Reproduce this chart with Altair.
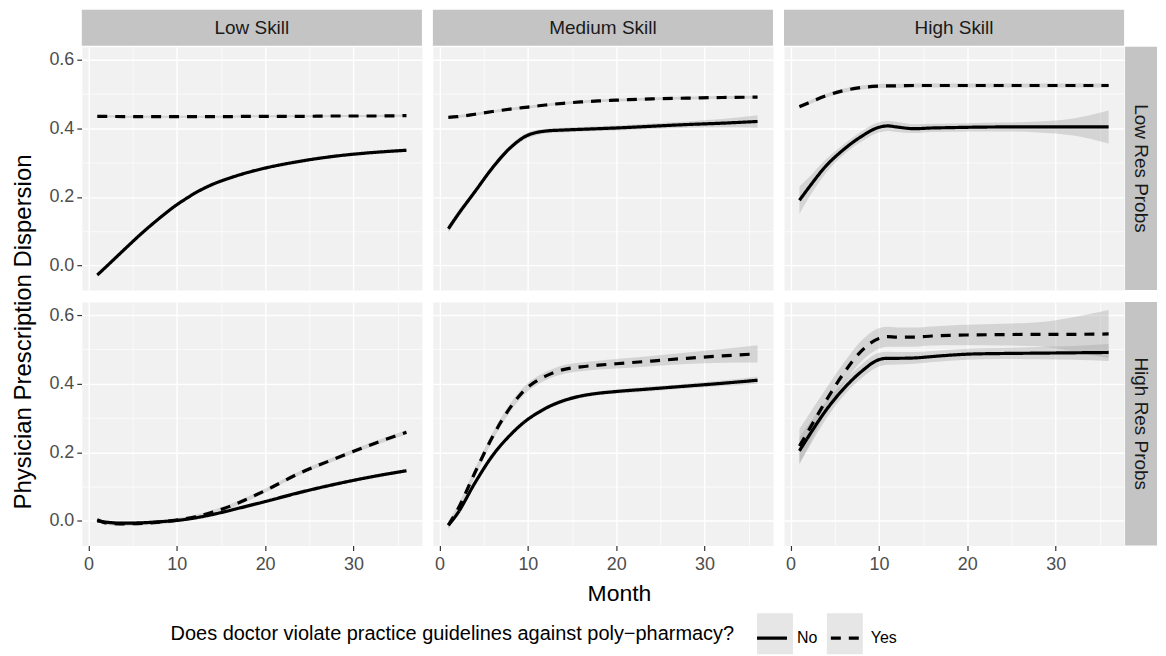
import altair as alt
import pandas as pd

MONTHS = [1, 2, 4, 6, 8, 10, 11, 12, 14, 16, 18, 20, 24, 28, 32, 36]
SKILLS = ["Low Skill", "Medium Skill", "High Skill"]
RES = ["Low Res Probs", "High Res Probs"]
VIOL = ["No", "Yes"]
X_TICKS = [0, 5, 10, 15, 20, 25, 30, 35]
Y_TICKS = [0.0, 0.1, 0.2, 0.3, 0.4, 0.5, 0.6]

# ---- Low Res Probs row ----
LS_LR_NO = [-0.028, -0.004, 0.045, 0.093, 0.137, 0.177, 0.194, 0.210, 0.236, 0.255, 0.271, 0.284, 0.304, 0.319, 0.329, 0.336]
LS_LR_NO_CI = [0.005, 0.004, 0.004, 0.004, 0.004, 0.004, 0.004, 0.004, 0.004, 0.004, 0.004, 0.004, 0.004, 0.004, 0.004, 0.005]
LS_LR_YES = [0.435, 0.435, 0.434, 0.434, 0.434, 0.434, 0.434, 0.434, 0.434, 0.434, 0.435, 0.435, 0.435, 0.436, 0.436, 0.437]
LS_LR_YES_CI = [0.003] * 16

MS_LR_NO = [0.107, 0.145, 0.215, 0.285, 0.343, 0.380, 0.388, 0.392, 0.395, 0.397, 0.399, 0.401, 0.406, 0.411, 0.415, 0.420]
MS_LR_NO_CI = [0.012, 0.010, 0.008, 0.008, 0.008, 0.008, 0.008, 0.007, 0.007, 0.007, 0.007, 0.007, 0.008, 0.009, 0.012, 0.018]
MS_LR_YES = [0.432, 0.434, 0.441, 0.449, 0.456, 0.462, 0.465, 0.468, 0.473, 0.477, 0.480, 0.482, 0.486, 0.488, 0.490, 0.491]
MS_LR_YES_CI = [0.004] * 16

HS_LR_NO = [0.190, 0.225, 0.290, 0.338, 0.376, 0.403, 0.407, 0.404, 0.399, 0.401, 0.402, 0.403, 0.404, 0.404, 0.404, 0.404]
HS_LR_NO_CI = [0.040, 0.030, 0.020, 0.015, 0.015, 0.015, 0.015, 0.015, 0.013, 0.012, 0.012, 0.012, 0.013, 0.016, 0.025, 0.048]
HS_LR_YES = [0.463, 0.474, 0.495, 0.510, 0.519, 0.523, 0.524, 0.524, 0.525, 0.525, 0.525, 0.525, 0.525, 0.525, 0.525, 0.525]
HS_LR_YES_CI = [0.006] * 16

# ---- High Res Probs row ----
LS_HR_NO = [0.000, -0.004, -0.007, -0.006, -0.003, 0.001, 0.004, 0.008, 0.018, 0.030, 0.043, 0.056, 0.083, 0.107, 0.128, 0.146]
LS_HR_NO_CI = [0.005] * 16
LS_HR_YES = [0.003, -0.006, -0.009, -0.008, -0.004, 0.002, 0.006, 0.011, 0.025, 0.042, 0.064, 0.088, 0.140, 0.182, 0.222, 0.258]
LS_HR_YES_CI = [0.006] * 16

MS_HR_NO = [-0.013, 0.020, 0.110, 0.190, 0.250, 0.296, 0.313, 0.328, 0.350, 0.364, 0.372, 0.377, 0.385, 0.393, 0.401, 0.410]
MS_HR_NO_CI = [0.008, 0.007, 0.006, 0.006, 0.006, 0.006, 0.006, 0.006, 0.006, 0.006, 0.006, 0.006, 0.007, 0.007, 0.008, 0.010]
MS_HR_YES = [-0.013, 0.030, 0.140, 0.245, 0.330, 0.390, 0.408, 0.422, 0.441, 0.449, 0.454, 0.458, 0.466, 0.474, 0.481, 0.487]
MS_HR_YES_CI = [0.012, 0.012, 0.012, 0.012, 0.012, 0.012, 0.012, 0.012, 0.013, 0.013, 0.013, 0.014, 0.015, 0.017, 0.020, 0.025]

HS_HR_NO = [0.204, 0.245, 0.322, 0.385, 0.435, 0.470, 0.474, 0.474, 0.475, 0.479, 0.483, 0.486, 0.488, 0.489, 0.490, 0.491]
HS_HR_NO_CI = [0.040, 0.035, 0.025, 0.020, 0.020, 0.020, 0.019, 0.018, 0.017, 0.016, 0.016, 0.016, 0.016, 0.018, 0.020, 0.025]
HS_HR_YES = [0.218, 0.262, 0.350, 0.430, 0.495, 0.532, 0.537, 0.536, 0.536, 0.539, 0.541, 0.542, 0.543, 0.544, 0.544, 0.545]
HS_HR_YES_CI = [0.050, 0.045, 0.035, 0.030, 0.030, 0.030, 0.029, 0.028, 0.028, 0.028, 0.029, 0.030, 0.032, 0.035, 0.050, 0.070]

SERIES = {
    ("Low Skill", "Low Res Probs", "No"): (LS_LR_NO, LS_LR_NO_CI),
    ("Low Skill", "Low Res Probs", "Yes"): (LS_LR_YES, LS_LR_YES_CI),
    ("Medium Skill", "Low Res Probs", "No"): (MS_LR_NO, MS_LR_NO_CI),
    ("Medium Skill", "Low Res Probs", "Yes"): (MS_LR_YES, MS_LR_YES_CI),
    ("High Skill", "Low Res Probs", "No"): (HS_LR_NO, HS_LR_NO_CI),
    ("High Skill", "Low Res Probs", "Yes"): (HS_LR_YES, HS_LR_YES_CI),
    ("Low Skill", "High Res Probs", "No"): (LS_HR_NO, LS_HR_NO_CI),
    ("Low Skill", "High Res Probs", "Yes"): (LS_HR_YES, LS_HR_YES_CI),
    ("Medium Skill", "High Res Probs", "No"): (MS_HR_NO, MS_HR_NO_CI),
    ("Medium Skill", "High Res Probs", "Yes"): (MS_HR_YES, MS_HR_YES_CI),
    ("High Skill", "High Res Probs", "No"): (HS_HR_NO, HS_HR_NO_CI),
    ("High Skill", "High Res Probs", "Yes"): (HS_HR_YES, HS_HR_YES_CI),
}

rows = []
for (skill, res, viol), (vals, ci) in SERIES.items():
    for m, v, c in zip(MONTHS, vals, ci):
        rows.append({"skill": skill, "res": res, "viol": viol, "month": m,
                     "value": v, "lo": v - c, "hi": v + c})
df = pd.DataFrame(rows)

W, H = 341, 244
FONT = "Liberation Sans"

x_scale = alt.Scale(domain=[-0.75, 37.75], nice=False, zero=False)
y_scale = alt.Scale(domain=[-0.072, 0.638], nice=False, zero=False)

x_axis = alt.Axis(
    values=X_TICKS,
    labelExpr="datum.value % 10 == 0 ? datum.label : ''",
    gridColor="white",
    gridWidth={"condition": {"test": "datum.value % 10 != 0", "value": 0.7}, "value": 1.4},
    tickColor={"condition": {"test": "datum.value % 10 != 0", "value": "transparent"}, "value": "#333333"},
    tickSize=5, tickWidth=1.2, domain=False,
    labelFontSize=18, labelColor="#4D4D4D", labelPadding=5, labelFont=FONT,
    title=None,
)
y_axis = alt.Axis(
    values=Y_TICKS,
    labelExpr="round(datum.value * 10) % 2 == 0 ? format(datum.value, '.1f') : ''",
    gridColor="white",
    gridWidth={"condition": {"test": "round(datum.value * 10) % 2 == 1", "value": 0.7}, "value": 1.4},
    tickColor={"condition": {"test": "round(datum.value * 10) % 2 == 1", "value": "transparent"}, "value": "#333333"},
    tickSize=5, tickWidth=1.2, domain=False,
    labelFontSize=18, labelColor="#4D4D4D", labelPadding=3, labelFont=FONT,
    title=None,
)

X = alt.X("month:Q", scale=x_scale, axis=x_axis)

band = alt.Chart().mark_area(color="#999999", opacity=0.32, interpolate="monotone").encode(
    x=X,
    y=alt.Y("lo:Q", scale=y_scale, axis=y_axis),
    y2="hi:Q",
    detail="viol:N",
)

line = alt.Chart().mark_line(color="black", strokeWidth=3.2, interpolate="monotone").encode(
    x=X,
    y=alt.Y("value:Q", scale=y_scale, axis=y_axis),
    strokeDash=alt.StrokeDash(
        "viol:N",
        scale=alt.Scale(domain=VIOL, range=[[1, 0], [10, 8]]),
        legend=alt.Legend(
            title="Does doctor violate practice guidelines against poly\u2212pharmacy?",
            orient="none", legendX=89, legendY=576,
            direction="horizontal", titleOrient="left",
            titleFontSize=20, titleFontWeight="normal", titleColor="black", titleFont=FONT,
            titleLimit=900, titlePadding=20,
            labelFontSize=16, labelColor="black", labelFont=FONT, labelOffset=8,
            symbolType="stroke", symbolSize=900, symbolStrokeWidth=3.2,
            symbolStrokeColor="black", columnPadding=6,
        ),
    ),
)

top_filter = "datum.res == 'Low Res Probs' && datum.viol == 'No' && datum.month == 1"
right_filter = "datum.skill == 'High Skill' && datum.viol == 'No' && datum.month == 1"
key_filter = "datum.skill == 'Medium Skill' && datum.res == 'High Res Probs' && datum.viol == 'No' && datum.month == 1"

top_rect = alt.Chart().transform_filter(top_filter).mark_rect(color="#C4C4C4").encode(
    x=alt.value(0), x2=alt.value(W), y=alt.value(-37), y2=alt.value(-1)
)
top_text = alt.Chart().transform_filter(top_filter).mark_text(
    fontSize=19, color="#1A1A1A", font=FONT, baseline="middle", align="center"
).encode(x=alt.value(W / 2), y=alt.value(-19), text="skill:N")

right_rect = alt.Chart().transform_filter(right_filter).mark_rect(color="#C4C4C4").encode(
    x=alt.value(W + 1), x2=alt.value(W + 33), y=alt.value(0), y2=alt.value(H)
)
right_text = alt.Chart().transform_filter(right_filter).mark_text(
    fontSize=19, color="#1A1A1A", font=FONT, angle=90, baseline="middle", align="center"
).encode(x=alt.value(W + 17), y=alt.value(H / 2), text="res:N")

# grey legend-key backgrounds (ggplot style), drawn beneath the legend symbols
key_no = alt.Chart().transform_filter(key_filter).mark_rect(color="#E6E6E6").encode(
    x=alt.value(325), x2=alt.value(361), y=alt.value(312), y2=alt.value(353)
)
key_yes = alt.Chart().transform_filter(key_filter).mark_rect(color="#E6E6E6").encode(
    x=alt.value(395), x2=alt.value(431), y=alt.value(312), y2=alt.value(353)
)

chart = alt.layer(band, line, top_rect, top_text, right_rect, right_text, key_no, key_yes).properties(
    width=W, height=H
).facet(
    data=df,
    row=alt.Row("res:N", sort=RES, header=alt.Header(
        labels=False, title="Physician Prescription Dispersion", titleOrient="left",
        titleFontSize=24, titleFontWeight="normal", titleColor="black", titleFont=FONT,
        titlePadding=2)),
    column=alt.Column("skill:N", sort=SKILLS, header=alt.Header(
        labels=False, title="Month", titleOrient="bottom",
        titleFontSize=23, titleFontWeight="normal", titleColor="black", titleFont=FONT,
        titlePadding=0)),
    spacing={"row": 12, "column": 11},
).properties(
    bounds="flush",
    padding={"left": 3, "top": 0, "right": 0, "bottom": 0}
).configure(font=FONT).configure_view(fill="#F1F1F1", stroke="transparent")

chart.save("out.html", embed_options={"renderer": "svg", "actions": False})
